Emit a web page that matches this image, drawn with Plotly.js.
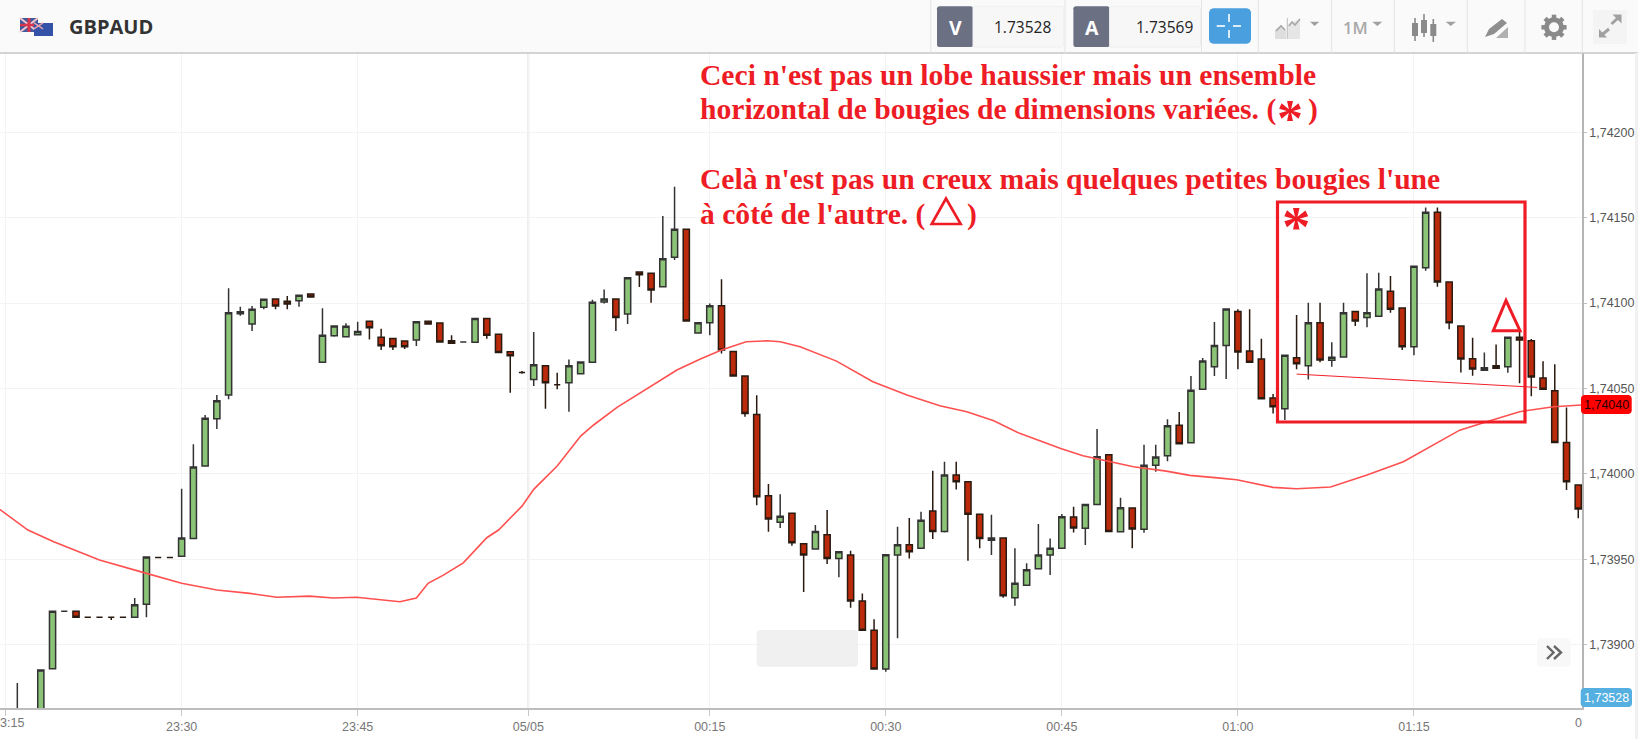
<!DOCTYPE html>
<html><head><meta charset="utf-8">
<script src="https://cdn.plot.ly/plotly-3.0.1.min.js"></script>
<style>html,body{margin:0;padding:0;background:#fff;overflow:hidden}#c{width:1638px;height:739px}</style>
</head><body><div id="c"></div>
<script>
const minute=[1,3,4,5,6,7,8,9,10,11,12,13,14,15,16,17,18,19,20,21,22,23,24,25,26,27,28,29,30,31,32,33,34,35,36,37,38,39,40,41,42,43,44,45,46,47,48,49,50,51,52,53,54,55,56,57,58,59,60,61,62,63,64,65,66,67,68,69,70,71,72,73,74,75,76,77,78,79,80,81,82,83,84,85,86,87,88,89,90,91,92,93,94,95,96,97,98,99,100,101,102,103,104,105,106,107,108,109,110,111,112,113,114,115,116,117,118,119,120,121,122,123,124,125,126,127,128,129,130,131,132,133,134];
const open=[1.7384,1.73855,1.738859,1.739196,1.739195,1.73916,1.73916,1.73916,1.73916,1.73916,1.739236,1.73951,1.73951,1.739517,1.739622,1.740046,1.740323,1.740461,1.740937,1.740877,1.740975,1.741023,1.74101,1.741013,1.741053,1.740653,1.740809,1.740803,1.740814,1.740893,1.740799,1.740793,1.740778,1.740783,1.740893,1.740883,1.740779,1.740772,1.74077,1.74091,1.740818,1.740715,1.740594,1.740553,1.740633,1.740522,1.740533,1.740586,1.740653,1.741006,1.741023,1.740936,1.741182,1.741174,1.741095,1.741268,1.741432,1.740824,1.740885,1.740984,1.740717,1.740573,1.740348,1.739872,1.739716,1.739769,1.739591,1.73956,1.739643,1.739505,1.739525,1.739255,1.739084,1.738857,1.739525,1.739585,1.739564,1.739782,1.739663,1.739993,1.739954,1.739763,1.739611,1.739624,1.739275,1.739347,1.739444,1.739525,1.739564,1.739747,1.739681,1.739821,1.740112,1.739661,1.7398,1.739675,1.740051,1.740106,1.740284,1.740182,1.740495,1.740627,1.740752,1.740951,1.740719,1.740672,1.740444,1.740381,1.74068,1.740633,1.740885,1.740665,1.740684,1.740951,1.740916,1.740922,1.741069,1.740971,1.740744,1.741207,1.741531,1.741123,1.740865,1.740674,1.740606,1.740633,1.740627,1.740799,1.740779,1.740561,1.740487,1.740184,1.739934];
const high=[1.738775,1.738851,1.739195,1.739196,1.739195,1.73916,1.73916,1.73916,1.73916,1.739273,1.739513,1.73951,1.73951,1.739913,1.740173,1.740344,1.740461,1.741086,1.740978,1.740982,1.741022,1.741023,1.741041,1.741045,1.741053,1.740969,1.740865,1.740881,1.740891,1.740893,1.74085,1.740793,1.740778,1.740891,1.740893,1.740883,1.740811,1.740772,1.74091,1.74091,1.740818,1.740715,1.740602,1.74083,1.740633,1.740592,1.74067,1.740655,1.741019,1.74108,1.741023,1.741148,1.741182,1.741174,1.741509,1.741681,1.741432,1.740885,1.740998,1.741139,1.740717,1.740573,1.74046,1.73994,1.73988,1.739769,1.739591,1.7397,1.739788,1.739544,1.73955,1.7393,1.739148,1.739526,1.73969,1.739741,1.739778,1.740018,1.740071,1.740071,1.739954,1.739763,1.739761,1.739624,1.739564,1.739476,1.739706,1.739622,1.739765,1.739807,1.739821,1.740262,1.740112,1.73986,1.7398,1.74017,1.74017,1.740319,1.740362,1.740573,1.740678,1.740889,1.740965,1.740963,1.740963,1.740791,1.740467,1.740694,1.74093,1.741002,1.741002,1.74077,1.741002,1.740951,1.741174,1.741177,1.741158,1.740971,1.741215,1.74156,1.74156,1.741123,1.740865,1.740797,1.740711,1.740758,1.740799,1.740832,1.740789,1.740659,1.740641,1.740389,1.739934];
const low=[1.7383,1.73855,1.738859,1.739196,1.739161,1.73916,1.73916,1.739144,1.73916,1.73916,1.73916,1.73951,1.73951,1.739517,1.739622,1.740046,1.740262,1.740436,1.740926,1.740836,1.740963,1.740963,1.740963,1.740978,1.741035,1.740653,1.740803,1.740803,1.740814,1.740787,1.740725,1.740725,1.740731,1.740748,1.740877,1.740772,1.740764,1.740772,1.74077,1.740791,1.740711,1.740475,1.740586,1.740514,1.740381,1.740495,1.740364,1.740586,1.740653,1.740998,1.740836,1.740877,1.741094,1.741002,1.741095,1.741252,1.740895,1.740824,1.740811,1.740705,1.740573,1.740334,1.739816,1.739661,1.739683,1.739579,1.739308,1.73956,1.739472,1.739394,1.739216,1.739084,1.738857,1.738841,1.739037,1.739505,1.739564,1.739618,1.739657,1.739909,1.739491,1.739564,1.739525,1.739275,1.739228,1.739347,1.739444,1.739407,1.73956,1.739657,1.739583,1.739821,1.739663,1.739661,1.739564,1.739655,1.740012,1.740073,1.740176,1.740182,1.740495,1.740573,1.740555,1.740612,1.740653,1.74044,1.740354,1.740315,1.740612,1.740553,1.740653,1.740627,1.740684,1.740865,1.740858,1.740922,1.740943,1.740725,1.740694,1.741189,1.741095,1.740846,1.740594,1.740574,1.740606,1.740618,1.740592,1.74053,1.740455,1.740495,1.740184,1.739905,1.73974];
const close=[1.7386,1.738851,1.739195,1.739196,1.739161,1.73916,1.73916,1.73916,1.73916,1.739234,1.739513,1.73951,1.73951,1.739624,1.74004,1.740325,1.740428,1.740943,1.740949,1.740963,1.741022,1.740982,1.740994,1.741045,1.741035,1.740811,1.740865,1.740864,1.740834,1.740855,1.74075,1.740744,1.740744,1.740891,1.740877,1.740772,1.740764,1.740772,1.74091,1.740811,1.740711,1.740691,1.740594,1.740639,1.740533,1.740522,1.740633,1.740655,1.741004,1.741023,1.740916,1.741148,1.741166,1.741076,1.741259,1.741432,1.740895,1.740885,1.740984,1.740725,1.740573,1.740354,1.739866,1.739735,1.739751,1.739597,1.739525,1.739663,1.739505,1.739544,1.739255,1.739084,1.738857,1.739526,1.739585,1.739544,1.739729,1.739663,1.739993,1.739954,1.739763,1.739622,1.739624,1.739286,1.739359,1.739438,1.739525,1.739564,1.739749,1.739683,1.739821,1.7401,1.739663,1.739801,1.739677,1.740051,1.740098,1.740282,1.740176,1.740489,1.74066,1.740752,1.740965,1.740713,1.740653,1.74044,1.740393,1.740694,1.740645,1.740885,1.740666,1.740682,1.740943,1.740895,1.740943,1.741082,1.740963,1.740744,1.741215,1.741531,1.741123,1.740885,1.740672,1.740614,1.740621,1.740618,1.740799,1.740783,1.740567,1.740495,1.740184,1.739954,1.739794];
const maMinute=[-0.5,1.9,4.1,8,11.7,15,18,20.8,23.1,25.9,27.9,29.9,33.6,35,36,37.3,39,41,42,44,45,47,49,50.1,52.1,54.9,57.2,59.2,61,63.1,64.9,66,67.7,70.8,73.9,76.8,79.6,81.9,84.2,86.4,89.9,91.8,96.1,98.9,100.9,103.5,104.9,108,110,112.9,116,119.1,123.9,126.2,129,131.9,134.3];
const maValue=[1.739792,1.739671,1.739602,1.739495,1.739423,1.739359,1.73932,1.7393,1.739277,1.739284,1.739273,1.739277,1.739251,1.739273,1.739359,1.739407,1.739479,1.739626,1.739671,1.739811,1.739909,1.740046,1.740221,1.740286,1.740389,1.74051,1.740608,1.740672,1.740725,1.740773,1.740779,1.740773,1.740744,1.74066,1.740539,1.740461,1.740399,1.740364,1.740311,1.740237,1.740149,1.740106,1.740042,1.740016,1.739991,1.739975,1.739965,1.739921,1.739913,1.739923,1.739993,1.740071,1.740256,1.740305,1.740364,1.740393,1.740403];
const supportMinute=[110,130.5];
const supportValue=[1.740584,1.740506];
const xTickVals=[0,15,30,44.54,60,75,90,105,120];
const xTickText=['','23:30','23:45','05/05','00:15','00:30','00:45','01:00','01:15'];
const yTickVals=[1.739,1.7395,1.74,1.7405,1.741,1.7415,1.742];
const yTickText=['1,73900','1,73950','1,74000','1,74050','1,74100','1,74150','1,74200'];
const symbol='GBPAUD', bid='1.73528', ask='1.73569', period='1M', lastPrice='1,74040', bidTag='1,73528';
const noteLines=["Ceci n'est pas un lobe haussier mais un ensemble","horizontal de bougies de dimensions variées. (","Celà n'est pas un creux mais quelques petites bougies l'une","à côté de l'autre. ("];

const RED='#ee1c25';
const X=p=>p/1638, Y=p=>1-p/739;
const path=(pts,close)=>'M'+pts.map(q=>X(q[0]).toFixed(5)+','+Y(q[1]).toFixed(5)).join('L')+(close?'Z':'');
const shapes=[], notes=[];
const rect=(x0,y0,x1,y1,fill,line,lw)=>shapes.push({type:'rect',xref:'paper',yref:'paper',x0:X(x0),x1:X(x1),y0:Y(y0),y1:Y(y1),fillcolor:fill||'rgba(0,0,0,0)',line:{color:line||'rgba(0,0,0,0)',width:line?(lw||1):0},layer:'above'});
const poly=(pts,closed,fill,line,lw)=>shapes.push({type:'path',xref:'paper',yref:'paper',path:path(pts,closed),fillcolor:fill||'rgba(0,0,0,0)',line:{color:line||'rgba(0,0,0,0)',width:line?(lw||1):0},layer:'above'});
const rr=(x0,y0,x1,y1,r,fill,line)=>{const k=r*0.3;poly([[x0+r,y0],[x1-r,y0],[x1-k,y0+k],[x1,y0+r],[x1,y1-r],[x1-k,y1-k],[x1-r,y1],[x0+r,y1],[x0+k,y1-k],[x0,y1-r],[x0,y0+r],[x0+k,y0+k]],true,fill,line,1);};
const txt=(x,y,t,size,color,anchor,family,weight)=>notes.push({xref:'paper',yref:'paper',x:X(x),y:Y(y),text:t,showarrow:false,xanchor:anchor||'center',yanchor:'middle',borderpad:0,font:{size:size,color:color,family:family||'Liberation Sans',weight:weight||400}});

// toolbar
rect(0,0,1638,53,'#fafafa');
poly([[0,53],[1638,53]],false,null,'#c6c6c6',1.5);
[930.8,1065,1201.5,1258.3,1331.7,1394.3,1467.3,1525,1582.3].forEach(x=>poly([[x,0],[x,53]],false,null,'#e4e4e4',1));
// flags
rect(20,18,38,32,'#41599f');poly([[20,18],[38,32]],false,null,'#f3c6cc',2);poly([[38,18],[20,32]],false,null,'#f3c6cc',2);
poly([[29,18],[29,32]],false,null,'#d8344a',3);poly([[20,25],[38,25]],false,null,'#d8344a',2.5);
rect(34,23,53,36,'#3352a8');poly([[34,23],[43,29]],false,null,'#e9a0ac',1.5);poly([[43,23],[34,29]],false,null,'#e9a0ac',1.5);
txt(67.5,26.5,symbol,20,'#333333','left','Open Sans',700);
// V / A boxes
rr(937,6.3,973,47,2,'#6b7083');rr(973,6.3,1063.7,47,2,'#f7f7f7','#efefef');
txt(955,27,'V',19.5,'#ffffff','center','Open Sans',700);txt(1022,27,bid,15.5,'#222222','center','Open Sans');
rr(1073.4,6.3,1109.6,47,2,'#6b7083');rr(1109.6,6.3,1200.5,47,2,'#f7f7f7','#efefef');
txt(1091.5,27,'A',19.5,'#ffffff','center','Open Sans',700);txt(1164,27,ask,15.5,'#222222','center','Open Sans');
// crosshair button
rr(1209,8.3,1251,43.7,4,'#4a9fdf');
poly([[1229,14],[1229,22]],false,null,'#fff',1.6);poly([[1229,30],[1229,38]],false,null,'#fff',1.6);
poly([[1216.7,26],[1225,26]],false,null,'#fff',1.6);poly([[1233,26],[1241,26]],false,null,'#fff',1.6);
// chart type icon
poly([[1275,39],[1275,30],[1281,25],[1286,30],[1286,39]],true,'#dedede');
poly([[1288,39],[1288,24],[1300,19],[1300,39]],true,'#e6e6e6');
poly([[1276,31],[1281,26],[1285,30]],false,null,'#a8a8a8',1.6);
poly([[1289,26],[1292,22],[1295,25],[1300,19]],false,null,'#a8a8a8',1.6);
poly([[1287.3,18],[1287.3,39]],false,null,'#bbbbbb',1);
poly([[1310,21.7],[1319.3,21.7],[1314.6,26]],true,'#a0a0a0');
txt(1355.7,27,period,16.5,'#a8a8a8','center','Open Sans',600);
poly([[1372.3,21.7],[1382.3,21.7],[1377.3,26]],true,'#a0a0a0');
// candles icon
[[1415,18,41,23,36],[1424,14,37,20,33],[1433.3,19,42,24,36]].forEach(c=>{poly([[c[0],c[1]],[c[0],c[2]]],false,null,'#8a8a8a',1.6);rect(c[0]-3,c[3],c[0]+3,c[4],'#8a8a8a');});
poly([[1445.7,21.7],[1456,21.7],[1450.8,26]],true,'#a0a0a0');
// pencil icon
poly([[1485,37],[1489,29],[1502,19],[1507,23],[1494,34]],true,'#8f8f8f');
poly([[1496,38],[1508,27],[1508,38]],true,'#b0b0b0');
// gear icon
shapes.push({type:'circle',xref:'paper',yref:'paper',x0:X(1546.5),x1:X(1561.5),y0:Y(34.8),y1:Y(19.8),fillcolor:'rgba(0,0,0,0)',line:{color:'#8a8a8a',width:5},layer:'above'});
[0,45,90,135,180,225,270,315].forEach(d=>{const a=d*Math.PI/180,c=Math.cos(a),s=Math.sin(a);poly([[1554+9*c,27.3+9*s],[1554+12.6*c,27.3+12.6*s]],false,null,'#8a8a8a',4.5);});
// expand icon
rect(1593,10,1627,44,'#f4f4f4');
poly([[1601,35.5],[1609,29]],false,null,'#a0a0a0',3);poly([[1599,29],[1599,37.5],[1607,37.5]],true,'#a0a0a0');
poly([[1611.5,24],[1619.5,16.5]],false,null,'#a0a0a0',3);poly([[1612.5,14.5],[1621.5,14.5],[1621.5,23.5]],true,'#a0a0a0');
// right strip
rect(1635,53,1638,739,'#f1f1f1');

// day separator
shapes.push({type:'line',xref:'x',yref:'paper',x0:44.54,x1:44.54,y0:Y(708),y1:Y(53),line:{color:'#e6e6e6',width:2},layer:'below'});
// grey box and >> button
rr(756.7,630,858,666.7,3,'rgba(236,236,236,0.8)');
rr(1537,638.3,1570.7,666.7,3,'#f8f8f8');
poly([[1547,646],[1553.5,652.5],[1547,659]],false,null,'#666',2.4);poly([[1554,646],[1561,652.5],[1554,659]],false,null,'#666',2.4);
// price tags
rr(1581,395,1631.7,414,3,'#ff0000');txt(1606.3,404.8,lastPrice,12.5,'#2a0000');
rr(1580.7,688,1632,707,3,'#55afe0');txt(1606.3,698,bidTag,12.5,'#ffffff');
// edge tick labels
txt(-1,722.7,'3:15',12.5,'#777777','left');
txt(1578,723,'0',12.5,'#777777');
// hand annotations
const S='Liberation Serif', FS=29.6;
txt(699,75,noteLines[0],FS,RED,'left',S,700);
txt(699,109.5,noteLines[1],FS,RED,'left',S,700);
txt(699,179.5,noteLines[2],FS,RED,'left',S,700);
txt(699,214.5,noteLines[3],FS,RED,'left',S,700);
txt(1290,118,'*',52,RED,'center',S,700);
txt(1312.7,109.5,')',FS,RED,'center',S,700);
txt(971.5,214.5,')',FS,RED,'center',S,700);
txt(1296,226,'*',57,RED,'center',S,700);
poly([[946,198.5],[960.7,224],[931.7,224]],true,null,RED,2.6);
poly([[1506,300.5],[1520,330.7],[1493.3,330.7]],true,null,RED,3);
rect(1277.5,202,1525,422,null,RED,3.2);

const data=[
 {type:'candlestick',x:minute,open:open,high:high,low:low,close:close,whiskerwidth:0,hoverinfo:'skip',showlegend:false,
  increasing:{line:{color:'#333333',width:1.5},fillcolor:'#8bc476'},
  decreasing:{line:{color:'#2a1a10',width:1.5},fillcolor:'#bb2a0a'}},
 {type:'scatter',mode:'lines',x:maMinute,y:maValue,line:{color:'#ff5050',width:1.6},hoverinfo:'skip',showlegend:false},
 {type:'scatter',mode:'lines',x:supportMinute,y:supportValue,line:{color:'#f0202a',width:1},hoverinfo:'skip',showlegend:false}
];
const layout={width:1638,height:739,margin:{l:0,r:0,t:0,b:0},paper_bgcolor:'#ffffff',plot_bgcolor:'#ffffff',showlegend:false,boxgap:0.25,
 xaxis:{domain:[0,1582/1638],range:[-0.477,134.32],type:'linear',rangeslider:{visible:false},tickmode:'array',tickvals:xTickVals,ticktext:xTickText,
  showgrid:true,gridcolor:'#f3f3f3',gridwidth:1,zeroline:false,showline:true,linecolor:'#bdbdbd',linewidth:2,ticks:'outside',ticklen:6,tickcolor:'#c8c8c8',tickfont:{family:'Liberation Sans',size:12.5,color:'#777777'}},
 yaxis:{domain:[31/739,686/739],range:[1.738629,1.742464],side:'right',tickmode:'array',tickvals:yTickVals,ticktext:yTickText,
  showgrid:true,gridcolor:'#f3f3f3',gridwidth:1,zeroline:false,showline:true,linecolor:'#b5b5b5',linewidth:1.5,ticks:'outside',ticklen:3,tickcolor:'#c0c0c0',tickfont:{family:'Liberation Sans',size:12.5,color:'#555555'}},
 shapes:shapes,annotations:notes};
Plotly.newPlot('c',data,layout,{displayModeBar:false,responsive:false});
</script></body></html>
